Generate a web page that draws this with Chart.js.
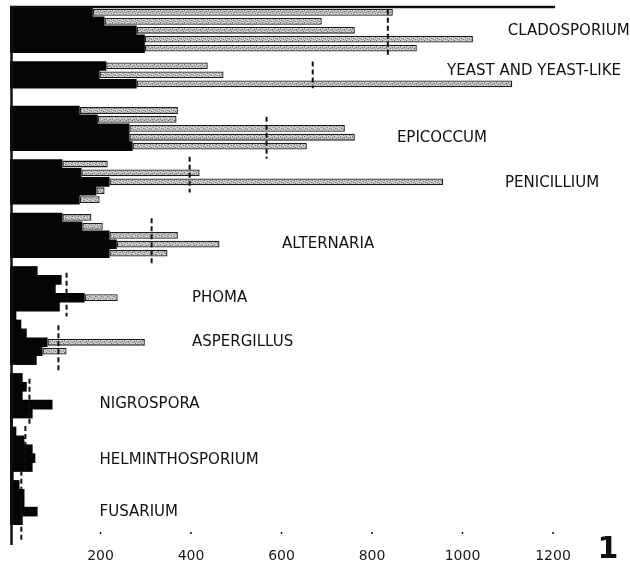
<!DOCTYPE html>
<html>
<head>
<meta charset="utf-8">
<script src="https://cdn.jsdelivr.net/npm/chart.js@4.4.1/dist/chart.umd.min.js"></script>
<style>
  body { margin: 0; background: #ffffff; }
  canvas { display: block; }
</style>
</head>
<body>
<canvas id="fungiChart" width="630" height="568"></canvas>
<script>
// ============================================
// Data
// one row per bar, null rows are the gaps between genera
// ============================================
const blackValues = [
  183, 209, 280, 298, 298, null,          // Cladosporium
  213, 198, 280, null, null,              // Yeast and yeast-like
  154, 194, 264, 264, 271, null,          // Epicoccum
  116, 158, 220, 191, 154, null,          // Penicillium
  116, 160, 220, 236, 220, null,          // Alternaria
  61, 114, 101, 165, 110,                 // Phoma
  14, 25, 37, 83, 72, 59, null,           // Aspergillus
  28, 37, 28, 94, 50,                     // Nigrospora
  6, 14, 32, 50, 56, 50,                  // Helminthosporium
  8, 21, 32, 32, 61, 28,                  // Fusarium
];

// end of the stippled part (black + stippled), null = black only
const totalValues = [
  846, 689, 762, 1023, 899, null,
  437, 472, 1110, null, null,
  371, 368, 740, 762, 656, null,
  216, 419, 957, 209, 198, null,
  180, 205, 371, 463, 348, null,
  null, null, null, 238, null,
  null, null, null, 298, 125, null, null,
  null, null, null, null, null,
  null, null, null, null, null, null,
  null, null, null, null, null, null,
];

const genera = [
  "CLADOSPORIUM", "YEAST AND YEAST-LIKE", "EPICOCCUM", "PENICILLIUM", "ALTERNARIA",
  "PHOMA", "ASPERGILLUS", "NIGROSPORA", "HELMINTHOSPORIUM", "FUSARIUM",
];

// mean of each genus (dashed line) and the rows it spans
const meanValues = [835, 669, 567, 397, 313, 125, 107, 43, 34, 25];
const meanFromRow = [-0.3, 5.5, 11.7, 16.2, 23.1, 29.2, 35.1, 41.1, 46.4, 51.4];
const meanToRow = [5.0, 8.5, 16.4, 20.2, 28.4, 34.1, 40.2, 46.4, 51.4, 59.3];

// where each genus name sits (x value, row)
const labelValues = [1100, 966, 855, 1094, 601, 402, 402, 198, 198, 198];
const labelRows = [2.1, 6.6, 14.1, 19.2, 26.0, 32.1, 37.0, 43.9, 50.2, 56.1];

const xTicks = [200, 400, 600, 800, 1000, 1200];

const rowLabels = blackValues.map((_, i) => String(i));
const stippleValues = totalValues.map((t, i) =>
  t === null ? null : [blackValues[i], t]
);

// ============================================
// Stippled fill (halftone grey speckle)
// ============================================
function makeStipple() {
  const c = document.createElement("canvas");
  c.width = 6;
  c.height = 6;
  const g = c.getContext("2d");
  g.fillStyle = "#cfcfcf";
  g.fillRect(0, 0, 6, 6);
  // dark specks
  g.fillStyle = "#6f6f6f";
  [[0, 0], [3, 1], [1, 3], [4, 4], [5, 2], [2, 5]].forEach(([px, py]) => {
    g.fillRect(px, py, 1, 1);
  });
  // mid specks
  g.fillStyle = "#9d9d9d";
  [[2, 0], [5, 0], [0, 2], [3, 3], [1, 5], [4, 5]].forEach(([px, py]) => {
    g.fillRect(px, py, 1, 1);
  });
  return g.createPattern(c, "repeat");
}

// ============================================
// Frame, mean lines, genus names, figure number
// ============================================
const overlayPlugin = {
  id: "overlay",
  afterDatasetsDraw(chart) {
    const { ctx, chartArea, scales } = chart;
    const x = scales.x;
    const y = scales.y;
    const rowH = y.getPixelForValue(1) - y.getPixelForValue(0);
    const rowPx = (r) => y.getPixelForValue(0) + r * rowH;

    ctx.save();
    ctx.strokeStyle = "#111111";

    // left axis and top rule
    ctx.lineWidth = 2.5;
    ctx.beginPath();
    ctx.moveTo(chartArea.left + 1.5, chartArea.top - 1);
    ctx.lineTo(chartArea.left + 1.5, chartArea.bottom + 20);
    ctx.moveTo(chartArea.left, chartArea.top - 1);
    ctx.lineTo(x.getPixelForValue(1200) + 2, chartArea.top - 1);
    ctx.stroke();

    // small tick marks above the labels
    ctx.lineWidth = 1.5;
    xTicks.forEach((v) => {
      const px = x.getPixelForValue(v);
      ctx.beginPath();
      ctx.moveTo(px, chartArea.bottom + 7);
      ctx.lineTo(px, chartArea.bottom + 9);
      ctx.stroke();
    });

    // dashed mean lines
    ctx.lineWidth = 2;
    ctx.setLineDash([5, 3]);
    meanValues.forEach((v, i) => {
      const px = x.getPixelForValue(v);
      ctx.beginPath();
      ctx.moveTo(px, rowPx(meanFromRow[i]));
      ctx.lineTo(px, rowPx(meanToRow[i]));
      ctx.stroke();
    });
    ctx.setLineDash([]);

    // genus names
    ctx.fillStyle = "#111111";
    ctx.font = "15px 'DejaVu Sans'";
    ctx.textAlign = "left";
    ctx.textBaseline = "middle";
    genera.forEach((name, i) => {
      ctx.fillText(name, x.getPixelForValue(labelValues[i]), rowPx(labelRows[i]));
    });

    // figure number
    ctx.font = "bold 30px 'DejaVu Sans'";
    ctx.textAlign = "center";
    ctx.fillText("1", chart.width - 22, chartArea.bottom + 25);
    ctx.restore();
  },
};

// ============================================
// Chart
// ============================================
const ctx = document.getElementById("fungiChart").getContext("2d");
new Chart(ctx, {
  type: "bar",
  data: {
    labels: rowLabels,
    datasets: [
      {
        label: "black",
        data: blackValues,
        backgroundColor: "#050505",
        borderWidth: 0,
        barPercentage: 1.08,
        categoryPercentage: 1,
        grouped: false,
        order: 2,
      },
      {
        label: "stippled",
        data: stippleValues,
        backgroundColor: makeStipple(),
        borderColor: "#1e1e1e",
        borderWidth: 1.3,
        borderSkipped: false,
        barPercentage: 0.76,
        categoryPercentage: 1,
        grouped: false,
        order: 1,
      },
    ],
  },
  options: {
    indexAxis: "y",
    responsive: false,
    animation: false,
    devicePixelRatio: 1,
    layout: { padding: { left: 10, right: 77, top: 8, bottom: 0 } },
    plugins: {
      legend: { display: false },
      tooltip: { enabled: false },
    },
    scales: {
      x: {
        min: 0,
        max: 1200,
        afterFit: (scale) => { scale.height = 43; },
        afterBuildTicks: (scale) => {
          scale.ticks = xTicks.map((v) => ({ value: v }));
        },
        grid: { display: false },
        border: { display: false },
        ticks: {
          padding: 15,
          color: "#1a1a1a",
          font: { family: "DejaVu Sans", size: 14 },
          maxRotation: 0,
          callback: (value) => String(value),
        },
      },
      y: {
        display: false,
        offset: true,
      },
    },
  },
  plugins: [overlayPlugin],
});
</script>
</body>
</html>
